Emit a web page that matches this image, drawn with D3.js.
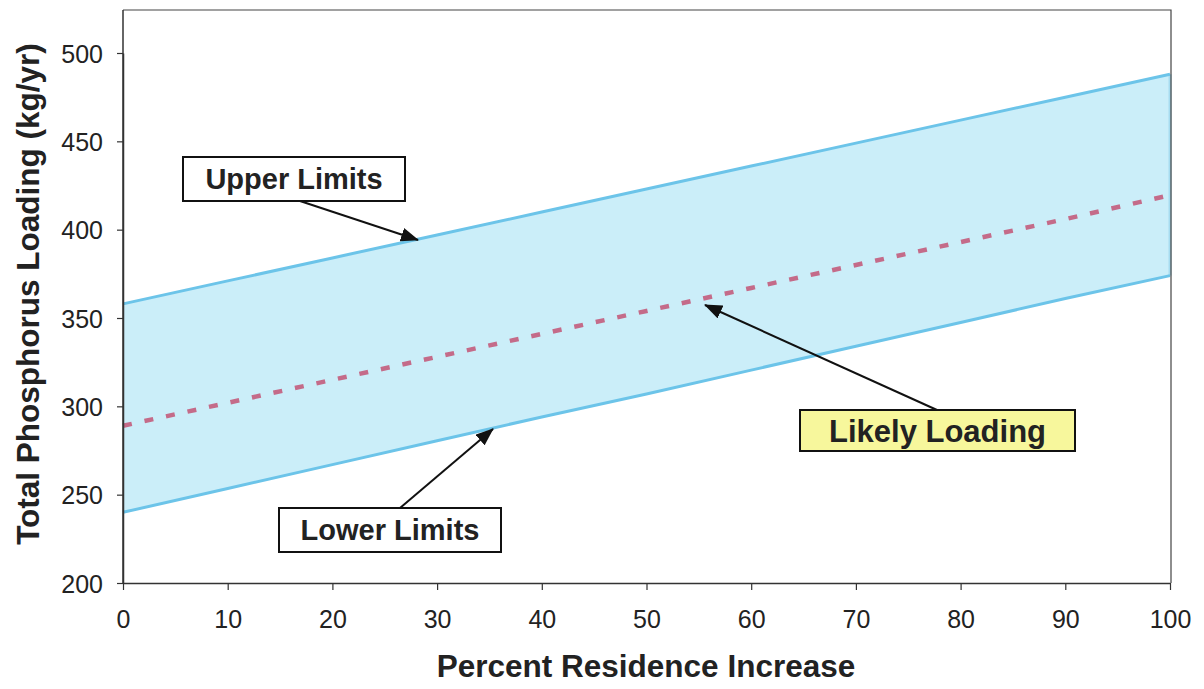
<!DOCTYPE html>
<html>
<head>
<meta charset="utf-8">
<script src="https://cdn.jsdelivr.net/npm/d3@7"></script>
<style>
  html, body { margin: 0; padding: 0; background: #fff; }
  svg { display: block; font-family: Arial, "Liberation Sans", sans-serif; }
</style>
</head>
<body>
<svg id="chart" width="1204" height="689"></svg>
<script>
// Percent residence increase (x) and phosphorus loading estimates (kg/yr)
const residenceIncrease = [0, 10, 20, 30, 40, 50, 60, 70, 80, 90, 100];
const upperLimits  = [358, 371, 384, 397, 410, 423, 436, 449, 462, 475, 488];
const lowerLimits  = [240, 253.5, 267, 280.5, 294, 307, 320.5, 334, 347.5, 361, 374];
const likelyLoading = [289, 302, 315, 328, 341, 354, 367, 380, 393, 406, 419.5];

const xTicks = [0, 10, 20, 30, 40, 50, 60, 70, 80, 90, 100];
const yTicks = [200, 250, 300, 350, 400, 450, 500];

const svg = d3.select("#chart");

const plotLeft = 123, plotRight = 1171, plotTop = 10, plotBottom = 583;
const x = d3.scaleLinear().domain([0, 100]).range([plotLeft, plotRight - 1]);
const y = d3.scaleLinear().domain([200, 500]).range([plotBottom, 53]);

const bandData = residenceIncrease.map((v, i) => ({ x: v, hi: upperLimits[i], lo: lowerLimits[i] }));

// shaded range between lower and upper limits
svg.append("path")
  .datum(bandData)
  .attr("fill", "#cbeef9")
  .attr("d", d3.area().x(d => x(d.x)).y0(d => y(d.lo)).y1(d => y(d.hi)));

// right edge of the band
svg.append("line")
  .attr("x1", x(100)).attr("x2", x(100))
  .attr("y1", y(upperLimits[upperLimits.length - 1]))
  .attr("y2", y(lowerLimits[lowerLimits.length - 1]))
  .attr("stroke", "#a6dcf0").attr("stroke-width", 3);

// limit lines
[upperLimits, lowerLimits].forEach(series => {
  svg.append("path")
    .datum(residenceIncrease.map((v, i) => [v, series[i]]))
    .attr("fill", "none")
    .attr("stroke", "#6cc4e9")
    .attr("stroke-width", 3)
    .attr("d", d3.line().x(d => x(d[0])).y(d => y(d[1])));
});

// likely loading (dashed)
svg.append("path")
  .datum(residenceIncrease.map((v, i) => [v, likelyLoading[i]]))
  .attr("fill", "none")
  .attr("stroke", "#c46b89")
  .attr("stroke-width", 4.5)
  .attr("stroke-dasharray", "9,13")
  .attr("d", d3.line().x(d => x(d[0])).y(d => y(d[1])));

// plot frame
svg.append("path")
  .attr("d", `M${plotLeft},${plotTop}H${plotRight}V${plotBottom}`)
  .attr("fill", "none").attr("stroke", "#444").attr("stroke-width", 1.2);

// axes
const xAxis = svg.append("g")
  .attr("transform", `translate(0,${plotBottom})`)
  .call(d3.axisBottom(x).tickValues(xTicks).tickSizeOuter(0).tickSizeInner(7).tickPadding(20));
const yAxis = svg.append("g")
  .attr("transform", `translate(${plotLeft},0)`)
  .call(d3.axisLeft(y).tickValues(yTicks).tickSizeOuter(0).tickSizeInner(6).tickPadding(14));

svg.append("line")
  .attr("x1", plotLeft).attr("x2", plotLeft).attr("y1", plotTop).attr("y2", plotBottom)
  .attr("stroke", "#333").attr("stroke-width", 1.5);

[xAxis, yAxis].forEach(g => {
  g.select(".domain").attr("stroke", "#333").attr("stroke-width", 1.5);
  g.selectAll(".tick line").attr("stroke", "#333").attr("stroke-width", 1.2);
  g.selectAll(".tick text")
    .attr("fill", "#222")
    .style("font-size", "25px")
    .style("font-family", "Arial, 'Liberation Sans', sans-serif");
});
yAxis.selectAll(".tick text").attr("dy", "0.36em");

// axis titles
svg.append("text")
  .attr("x", (plotLeft + plotRight) / 2 - 1).attr("y", 677)
  .attr("text-anchor", "middle")
  .attr("font-weight", "bold").attr("font-size", 31.5)
  .attr("fill", "#222")
  .text("Percent Residence Increase");

svg.append("text")
  .attr("transform", `translate(39,${294}) rotate(-90)`)
  .attr("text-anchor", "middle")
  .attr("font-weight", "bold").attr("font-size", 31.5)
  .attr("fill", "#222")
  .text("Total Phosphorus Loading (kg/yr)");

// annotation callouts with arrows
const defs = svg.append("defs");
defs.append("marker")
  .attr("id", "arrowhead")
  .attr("viewBox", "0 0 18 14")
  .attr("refX", 17).attr("refY", 7)
  .attr("markerWidth", 18).attr("markerHeight", 14)
  .attr("markerUnits", "userSpaceOnUse")
  .attr("orient", "auto")
  .append("path").attr("d", "M0,0L18,7L0,14Z").attr("fill", "#111");

const callouts = [
  { label: "Upper Limits", box: [183, 157, 222, 44], fill: "#fff", size: 29, from: [300, 201], to: [418, 240] },
  { label: "Lower Limits", box: [279, 508, 222, 44], fill: "#fff", size: 29, from: [400, 508], to: [493, 429] },
  { label: "Likely Loading", box: [800, 410, 275, 41], fill: "#f7f79c", size: 31, from: [937, 410], to: [705, 305] }
];

callouts.forEach(c => {
  svg.append("line")
    .attr("x1", c.from[0]).attr("y1", c.from[1])
    .attr("x2", c.to[0]).attr("y2", c.to[1])
    .attr("stroke", "#111").attr("stroke-width", 2)
    .attr("marker-end", "url(#arrowhead)");
  const [bx, by, bw, bh] = c.box;
  svg.append("rect")
    .attr("x", bx).attr("y", by).attr("width", bw).attr("height", bh)
    .attr("fill", c.fill).attr("stroke", "#111").attr("stroke-width", 2);
  svg.append("text")
    .attr("x", bx + bw / 2).attr("y", by + bh / 2)
    .attr("dy", "0.36em")
    .attr("text-anchor", "middle")
    .attr("font-weight", "bold").attr("font-size", c.size)
    .attr("fill", "#222")
    .text(c.label);
});
</script>
</body>
</html>
